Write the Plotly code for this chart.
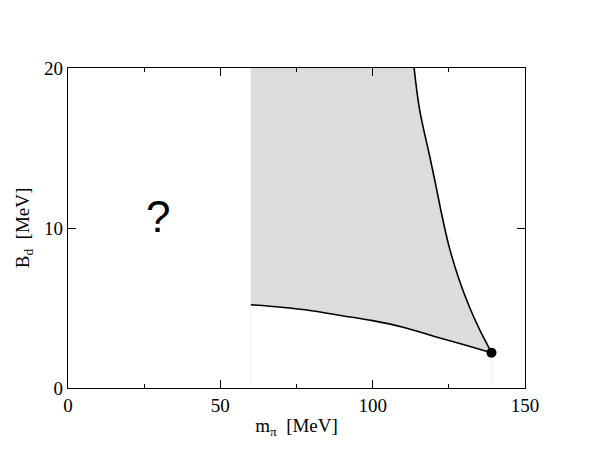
import plotly.graph_objects as go

# lower boundary of the allowed band (m_pi [MeV], B_d [MeV])
lower_m = [60, 70, 80, 90, 100, 110, 120, 130, 139]
lower_b = [5.2, 5.05, 4.83, 4.52, 4.21, 3.8, 3.24, 2.7, 2.2]

# upper boundary, from the top of the frame down to the physical point
upper_m = [113.6, 115.4, 118.7, 120.7, 122.5, 125.0, 128.5, 131.8, 135.1, 137.8, 139]
upper_b = [20, 17.4, 14.5, 12.7, 11.0, 8.9, 6.7, 5.05, 3.65, 2.65, 2.2]

# physical deuteron
phys_m = [139]
phys_b = [2.2]

x_ticks = [0, 50, 100, 150]
y_ticks = [0, 10, 20]

serif = "Liberation Serif, Times New Roman, serif"

fig = go.Figure()

# shaded band: left edge at m_pi = 60, top at B_d = 20
band_x = [lower_m[0], lower_m[0]] + upper_m + lower_m[::-1]
band_y = [lower_b[0], upper_b[0]] + upper_b + lower_b[::-1]
fig.add_trace(go.Scatter(
    x=band_x, y=band_y, fill="toself", fillcolor="#dcdcdc",
    mode="lines", line=dict(width=0), hoverinfo="skip"
))

# faint drop lines
fig.add_trace(go.Scatter(
    x=[lower_m[0], lower_m[0], None, phys_m[0], phys_m[0]],
    y=[0, lower_b[0], None, 0, phys_b[0]],
    mode="lines", line=dict(color="#f4f4f4", width=1), hoverinfo="skip"
))

fig.add_trace(go.Scatter(
    x=lower_m, y=lower_b, mode="lines",
    line=dict(color="black", width=1.6, shape="spline")
))
fig.add_trace(go.Scatter(
    x=upper_m, y=upper_b, mode="lines",
    line=dict(color="black", width=1.6, shape="spline")
))
fig.add_trace(go.Scatter(
    x=phys_m, y=phys_b, mode="markers",
    marker=dict(color="black", size=10)
))

fig.add_annotation(
    x=29.5, y=10.7, text="?", showarrow=False,
    font=dict(family="Liberation Sans, Arial, sans-serif", size=44, color="black")
)

axis_common = dict(
    showgrid=False, zeroline=False, showline=True, linecolor="black",
    linewidth=1.3, mirror="allticks", ticks="inside", ticklen=8,
    tickcolor="black", tickwidth=1, automargin=False,
    tickfont=dict(family=serif, size=19, color="black"),
)

# the page body adds ~8px offset, so margins are shifted to compensate
fig.update_layout(
    width=591, height=457,
    margin=dict(l=60, r=74, t=60, b=77),
    plot_bgcolor="white", paper_bgcolor="white",
    showlegend=False,
    xaxis=dict(
        range=[0, 150], tickvals=x_ticks,
        minor=dict(ticks="inside", ticklen=4, dtick=25, tickcolor="black"),
        title=dict(text="m<sub>π</sub>  [MeV]", standoff=3,
                   font=dict(family=serif, size=19, color="black")),
        **axis_common
    ),
    yaxis=dict(
        range=[0, 20], tickvals=y_ticks,
        title=dict(text="B<sub>d</sub>  [MeV]", standoff=9,
                   font=dict(family=serif, size=19, color="black")),
        **axis_common
    ),
)

fig.write_html("out.html")
